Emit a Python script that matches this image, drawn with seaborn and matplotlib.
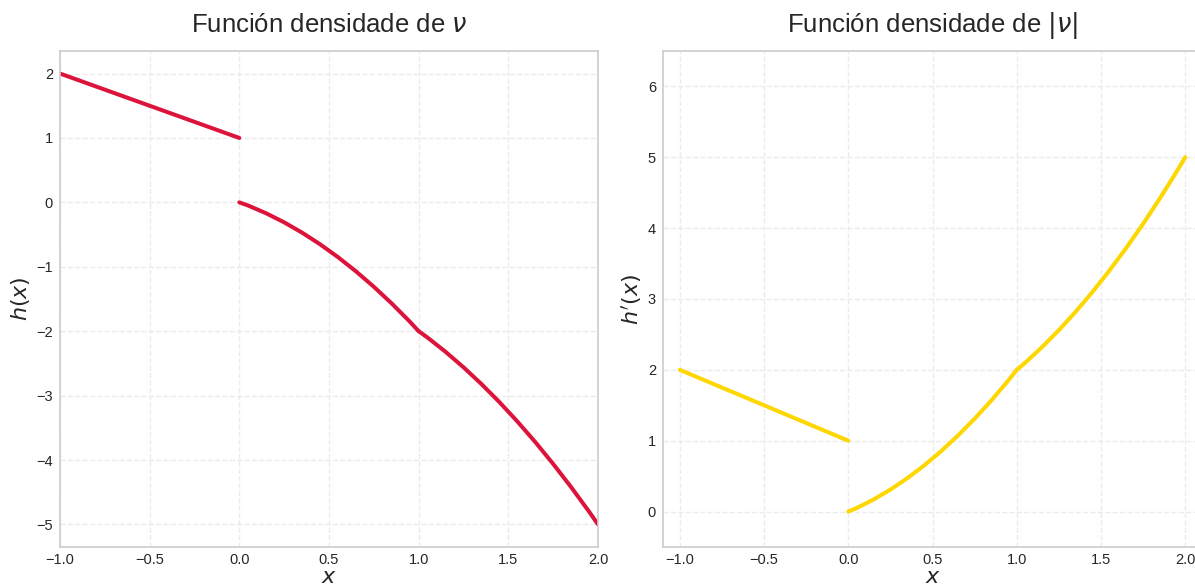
import numpy as np
import pandas as pd
import matplotlib
matplotlib.use('Agg')
import matplotlib.pyplot as plt
import seaborn as sns

# valores (tramos de cada función)
x_neg = [-1.0, 0.0]
h_neg = [2.0, 1.0]

x_mid = [0.0, 0.05, 0.1, 0.15, 0.2, 0.25, 0.3, 0.35, 0.4, 0.45, 0.5,
         0.55, 0.6, 0.65, 0.7, 0.75, 0.8, 0.85, 0.9, 0.95, 1.0]
h_mid = [0.0, -0.05, -0.11, -0.17, -0.24, -0.31, -0.39, -0.47, -0.56, -0.65, -0.75,
         -0.85, -0.96, -1.07, -1.19, -1.31, -1.44, -1.57, -1.71, -1.85, -2.0]

x_hi = [1.0, 1.05, 1.1, 1.15, 1.2, 1.25, 1.3, 1.35, 1.4, 1.45, 1.5,
        1.55, 1.6, 1.65, 1.7, 1.75, 1.8, 1.85, 1.9, 1.95, 2.0]
h_hi = [-2.0, -2.1, -2.21, -2.32, -2.44, -2.56, -2.69, -2.82, -2.96, -3.1, -3.25,
        -3.4, -3.56, -3.72, -3.89, -4.06, -4.24, -4.42, -4.61, -4.8, -5.0]

hp_neg = [2.0, 1.0]
hp_mid = [0.0, 0.05, 0.11, 0.17, 0.24, 0.31, 0.39, 0.47, 0.56, 0.65, 0.75,
          0.85, 0.96, 1.07, 1.19, 1.31, 1.44, 1.57, 1.71, 1.85, 2.0]
hp_hi = [2.0, 2.1, 2.21, 2.32, 2.44, 2.56, 2.69, 2.82, 2.96, 3.1, 3.25,
         3.4, 3.56, 3.72, 3.89, 4.06, 4.24, 4.42, 4.61, 4.8, 5.0]

TITLES = ['Función densidade de $\\nu$', 'Función densidade de $|\\nu|$']
YLABELS = ['$h(x)$', "$h'(x)$"]
COLORS = ['crimson', 'gold']

sns.set_theme(style='whitegrid')
plt.rcParams['font.family'] = ['Liberation Sans', 'DejaVu Sans']
plt.rcParams['grid.linestyle'] = '--'
plt.rcParams['grid.color'] = '#ebebeb'
plt.rcParams['axes.edgecolor'] = '#cccccc'

fig = plt.figure(figsize=(11.95, 5.87), dpi=100)
W, H = 1195, 587
ax1 = fig.add_axes([60 / W, 1 - 547 / H, (598 - 60) / W, (547 - 51) / H])
ax2 = fig.add_axes([663 / W, 1 - 547 / H, (1202 - 663) / W, (547 - 51) / H])

segs = [
    [(x_neg, h_neg), (x_mid, h_mid), (x_hi, h_hi)],
    [(x_neg, hp_neg), (x_mid, hp_mid), (x_hi, hp_hi)],
]

for ax, pieces, title, ylab, col in zip([ax1, ax2], segs, TITLES, YLABELS, COLORS):
    for xs, ys in pieces:
        sns.lineplot(x=xs, y=ys, ax=ax, color=col, linewidth=2.9, sort=False)
    ax.set_title(title, fontsize=18.5, pad=14, color='#262626')
    ax.set_xlabel('$x$', fontsize=16, labelpad=0)
    ax.set_ylabel(ylab, fontsize=16, labelpad=3)
    ax.tick_params(axis='x', labelsize=10.5, colors='#262626', length=0, pad=4)
    ax.tick_params(axis='y', labelsize=10.5, colors='#262626', length=0, pad=5)
    for s in ax.spines.values():
        s.set_linewidth(1.2)

ax1.set_xlim(-1.0, 2.0)
ax1.set_xticks([-1.0, -0.5, 0.0, 0.5, 1.0, 1.5, 2.0])
ax1.set_yticks([-5, -4, -3, -2, -1, 0, 1, 2])
ax2.set_xlim(-1.1, 2.1)
ax2.set_ylim(-0.5, 6.5)
ax2.set_xticks([-1.0, -0.5, 0.0, 0.5, 1.0, 1.5, 2.0])

fig.savefig('out.png', dpi=100)
